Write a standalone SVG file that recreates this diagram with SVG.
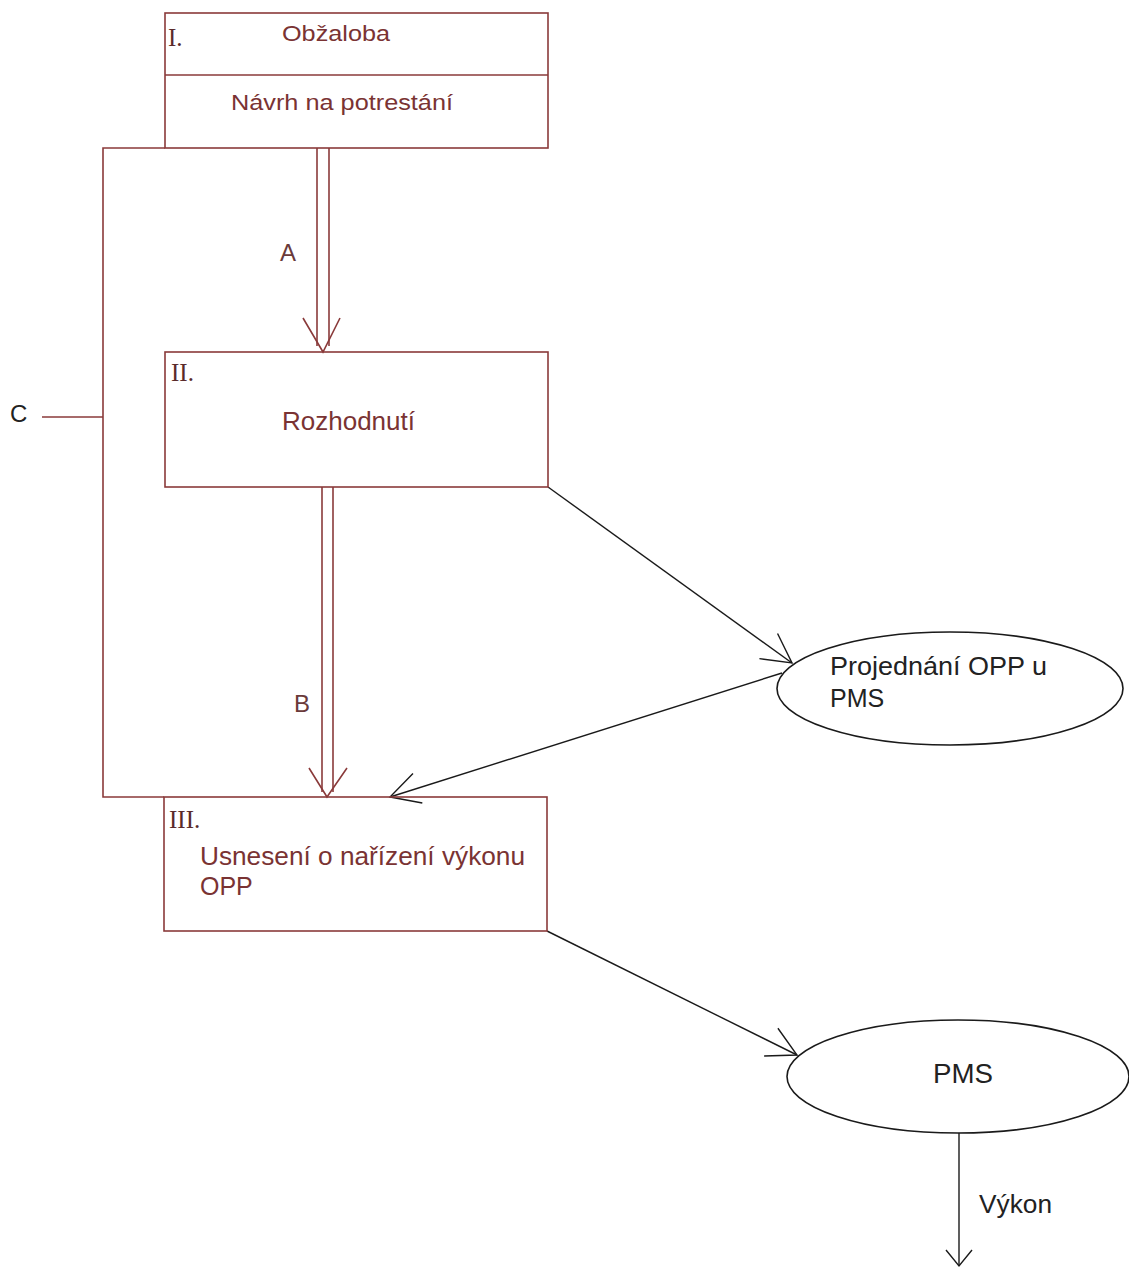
<svg xmlns="http://www.w3.org/2000/svg" width="1129" height="1268" viewBox="0 0 1129 1268">
<defs>
<style>
.box{fill:none;stroke:#8a3a3a;stroke-width:1.6}
.red{fill:none;stroke:#8a3a3a;stroke-width:1.6}
.blk{fill:none;stroke:#1a1a1a;stroke-width:1.4}
.ell{fill:#ffffff;stroke:#1a1a1a;stroke-width:1.6}
.rt{font-family:"Liberation Sans",Arial,sans-serif;fill:#7a3333}
.rn{font-family:"Liberation Serif","Times New Roman",serif;fill:#5a2a2a;font-size:25px}
.bt{font-family:"Liberation Sans",Arial,sans-serif;fill:#222222}
.lbl{font-family:"Liberation Sans",Arial,sans-serif;fill:#6a3a3a;font-size:24px}
</style>
<marker id="open" markerUnits="userSpaceOnUse" markerWidth="40" markerHeight="40" refX="0" refY="0" viewBox="-35 -20 40 40" orient="auto" overflow="visible">
<path d="M-29,-15.5 L0,0 L-29,15.5" fill="none" stroke="#1a1a1a" stroke-width="1.4"/>
</marker>
<marker id="openS" markerUnits="userSpaceOnUse" markerWidth="30" markerHeight="30" refX="0" refY="0" viewBox="-25 -15 30 30" orient="auto" overflow="visible">
<path d="M-16,-13 L0,0 L-16,13" fill="none" stroke="#1a1a1a" stroke-width="1.4"/>
</marker>
</defs>
<rect width="1129" height="1268" fill="#ffffff"/>

<g id="connectors">
<path id="bracketC" class="red" d="M165,148 H103 V797 H164"/>
<line id="lineC" class="red" x1="42" y1="417" x2="103" y2="417"/>
<g id="arrowA" class="red">
<line x1="317" y1="148" x2="317" y2="346"/>
<line x1="329" y1="148" x2="329" y2="346"/>
<polyline points="303,318 323,352 340,318"/>
</g>
<g id="arrowB" class="red">
<line x1="322" y1="487" x2="322" y2="792"/>
<line x1="333" y1="487" x2="333" y2="792"/>
<polyline points="309,768 327,797 347,768"/>
</g>
<line id="e-II-proj" class="blk" x1="548" y1="487" x2="792" y2="663" marker-end="url(#open)"/>
<line id="e-proj-III" class="blk" x1="782" y1="673" x2="390" y2="797" marker-end="url(#open)"/>
<line id="e-III-pms" class="blk" x1="547" y1="931" x2="797" y2="1055" marker-end="url(#open)"/>
<line id="e-pms-vykon" class="blk" x1="959" y1="1133" x2="959" y2="1266" marker-end="url(#openS)"/>
</g>

<g id="node-I">
<rect class="box" x="165" y="13" width="383" height="135"/>
<line class="box" x1="165" y1="75" x2="548" y2="75"/>
<text class="rn" x="168" y="46">I.</text>
<text class="rt" x="336" y="41" font-size="22" text-anchor="middle" textLength="108" lengthAdjust="spacingAndGlyphs">Obžaloba</text>
<text class="rt" x="342" y="110" font-size="22" text-anchor="middle" textLength="222" lengthAdjust="spacingAndGlyphs">Návrh na potrestání</text>
</g>

<g id="node-II">
<rect class="box" x="165" y="352" width="383" height="135"/>
<text class="rn" x="171" y="381">II.</text>
<text class="rt" x="282" y="430" font-size="25" textLength="133" lengthAdjust="spacingAndGlyphs">Rozhodnutí</text>
</g>

<g id="node-III">
<rect class="box" x="164" y="797" width="383" height="134"/>
<text class="rn" x="169" y="828">III.</text>
<text class="rt" x="200" y="865" font-size="25" textLength="325" lengthAdjust="spacingAndGlyphs">Usnesení o nařízení výkonu</text>
<text class="rt" x="200" y="895" font-size="25">OPP</text>
</g>

<g id="node-projednani">
<ellipse class="ell" cx="950" cy="688.5" rx="173" ry="56.5"/>
<text class="bt" x="830" y="675" font-size="25" textLength="217" lengthAdjust="spacingAndGlyphs">Projednání OPP u</text>
<text class="bt" x="830" y="707" font-size="25">PMS</text>
</g>

<g id="node-pms">
<ellipse class="ell" cx="958" cy="1076.5" rx="171" ry="56.5"/>
<text class="bt" x="963" y="1083" font-size="27" text-anchor="middle" textLength="60" lengthAdjust="spacingAndGlyphs">PMS</text>
</g>

<g id="labels">
<text class="lbl" x="280" y="261">A</text>
<text class="lbl" x="294" y="712">B</text>
<text class="bt" x="10" y="422" font-size="24" fill="#555555">C</text>
<text class="bt" x="979" y="1213" font-size="26" textLength="73" lengthAdjust="spacingAndGlyphs">Výkon</text>
</g>
</svg>
